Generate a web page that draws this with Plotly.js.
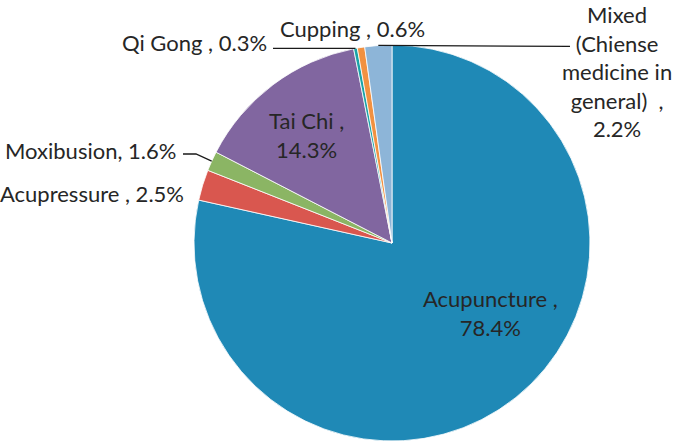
<!DOCTYPE html>
<html>
<head>
<meta charset="utf-8">
<script src="https://cdn.plot.ly/plotly-3.0.1.min.js"></script>
<style>
  html, body { margin: 0; padding: 0; background: #fff; }
  #chart { width: 674px; height: 442px; }
</style>
</head>
<body>
<div id="chart"></div>
<script>
// data (percent of studies)
var labels = ["Acupuncture", "Acupressure", "Moxibusion", "Tai Chi", "Qi Gong", "Cupping", "Mixed (Chiense medicine in general)"];
var values = [78.4, 2.5, 1.6, 14.3, 0.3, 0.6, 2.2];
var colors = ["#1F89B6", "#D9574F", "#8BB564", "#8166A0", "#1AA3A8", "#F19141", "#8DB5D8"];

// label texts as drawn next to the slices
var labelText = [
  "Acupuncture ,<br>78.4%",
  "Acupressure , 2.5%",
  "Moxibusion, 1.6%",
  "Tai Chi ,<br>14.3%",
  "Qi Gong , 0.3%",
  "Cupping , 0.6%",
  "Mixed<br>(Chiense<br>medicine in<br>general)  ,<br>2.2%"
];

var W = 674, H = 442;
var cx = 392, cy = 243, R = 198; // pie centre and radius in pixels

function px(x) { return x / W; }
function py(y) { return 1 - y / H; }

// point on the rim in the middle of slice i (clockwise from 12 o'clock)
var total = values.reduce(function (a, b) { return a + b; }, 0);
function rimPoint(i) {
  var cum = 0;
  for (var k = 0; k < i; k++) cum += values[k];
  var a = (cum + values[i] / 2) / total * 2 * Math.PI;
  return [cx + R * Math.sin(a), cy - R * Math.cos(a)];
}

var font = { family: "Lato, 'Open Sans', sans-serif", size: 22, color: "#262626" };

var trace = {
  type: "pie",
  labels: labels,
  values: values,
  sort: false,
  direction: "clockwise",
  rotation: 0,
  textinfo: "none",
  hoverinfo: "label+percent",
  marker: { colors: colors, line: { color: "#ffffff", width: 0.8 } },
  domain: { x: [px(cx - R), px(cx + R)], y: [py(cy + R), py(cy - R)] }
};

// label placement [x, y, xanchor]
var labelPos = [
  [490, 313, "center"],
  [186, 193, "right"],
  [178, 150, "right"],
  [306, 135, "center"],
  [269, 43, "right"],
  [352, 28, "center"],
  [617, 72, "center"]
];

var annotations = labelText.map(function (t, i) {
  return {
    text: t, xref: "paper", yref: "paper",
    x: px(labelPos[i][0]), y: py(labelPos[i][1]),
    xanchor: labelPos[i][2], yanchor: "middle",
    showarrow: false, font: font, align: "center"
  };
});

// leader lines
var pQi = rimPoint(4), pMix = rimPoint(6), pMox = rimPoint(2);
function path(pts) {
  return pts.map(function (p, j) { return (j ? "L" : "M") + px(p[0]) + "," + py(p[1]); }).join(" ");
}
var lineStyle = { color: "#1a1a1a", width: 1.3 };
var shapes = [
  { type: "path", xref: "paper", yref: "paper", path: path([[273, pQi[1]], pQi]), line: lineStyle },
  { type: "path", xref: "paper", yref: "paper", path: path([pMix, [570, pMix[1] + 1]]), line: lineStyle },
  { type: "path", xref: "paper", yref: "paper", path: path([[183, 154], [196, 154], pMox]), line: lineStyle }
];

var layout = {
  width: W, height: H,
  margin: { l: 0, r: 0, t: 0, b: 0 },
  paper_bgcolor: "#ffffff",
  showlegend: false,
  annotations: annotations,
  shapes: shapes
};

Plotly.newPlot("chart", [trace], layout, { displayModeBar: false, staticPlot: true });
</script>
</body>
</html>
